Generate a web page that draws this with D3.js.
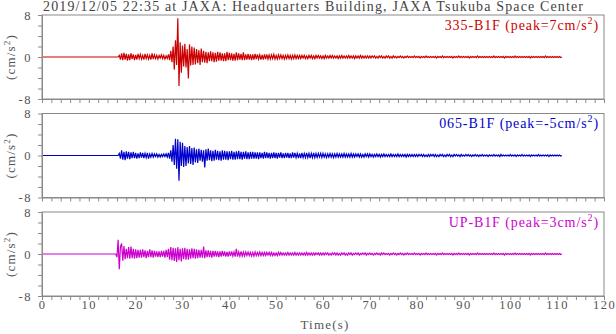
<!DOCTYPE html>
<html><head><meta charset="utf-8">
<script src="https://cdn.jsdelivr.net/npm/d3@7"></script>
<style>body{margin:0;background:#fff}svg{display:block}</style>
</head><body><svg id="c" width="616" height="334"></svg>
<script>
const title = "2019/12/05 22:35 at JAXA: Headquarters Building, JAXA Tsukuba Space Center";
const stations = ["335-B1F", "065-B1F", "UP-B1F"];
const peaks = [7, -5, 3];
const xTickLabels = [0, 10, 20, 30, 40, 50, 60, 70, 80, 90, 100, 110, 120];
const yTickLabels = [-8, 0, 8];
const xLabel = "Time(s)";
const preEventTime = 0;   // trace is flat (0) from here to startTime
const startTime = 15;     // s, first sample
const dt = 0.25;          // s, sample spacing

const acc335 = [
0,0,0,0, 0,0,0.3,-0.5, 0.7,-0.6,0.8,-0.5, 0.6,-0.7,0.5,-0.6, 0.7,-0.4,0.5,-0.6,
0.4,-0.5,0.6,-0.3, 0.5,-0.4,0.3,-0.5, 0.6,-0.3,0.4,-0.4, 0.3,-0.5,0.7,-0.4, 0.4,-0.3,0.3,-0.4,
0.3,-0.2,0.4,-0.3, 0.3,-0.4,0.2,-0.3, 0.5,-0.6,1.2,-1.0, 2.0,-2.4,3.2,-1.5, 7.4,-5.5,2.8,-3.0,
2.2,-1.8,2.5,-2.0, 1.5,-4.1,2.4,-1.6, 2.0,-1.5,1.8,-1.4, 1.5,-1.2,1.3,-1.5, 1.6,-1.0,1.2,-1.1,
1.0,-1.2,0.9,-0.8, 1.1,-0.8,0.9,-1.0, 0.8,-0.9,1.0,-0.7, 0.9,-0.7,0.7,-0.8, 0.7,-0.8,1.0,-0.6,
0.8,-0.6,0.7,-0.7, 0.6,-0.7,0.9,-0.6, 0.7,-0.5,0.6,-0.6, 0.9,-0.6,0.5,-0.5, 0.6,-0.5,0.5,-0.6,
0.5,-0.5,0.6,-0.4, 0.5,-0.4,0.4,-0.5, 0.4,-0.5,0.5,-0.4, 0.5,-0.4,0.4,-0.4, 0.4,-0.3,0.5,-0.4,
0.3,-0.4,0.4,-0.3, 0.4,-0.3,0.3,-0.4, 0.3,-0.3,0.4,-0.3, 0.3,-0.4,0.3,-0.3, 0.4,-0.3,0.3,-0.3,
0.3,-0.3,0.3,-0.2, 0.3,-0.3,0.2,-0.3, 0.3,-0.2,0.3,-0.3, 0.2,-0.3,0.3,-0.2, 0.3,-0.2,0.2,-0.3,
0.2,-0.3,0.3,-0.2, 0.2,-0.2,0.3,-0.2, 0.3,-0.2,0.2,-0.2, 0.2,-0.3,0.2,-0.2, 0.3,-0.2,0.2,-0.2,
0.2,-0.2,0.3,-0.2, 0.2,-0.2,0.2,-0.3, 0.2,-0.2,0.2,-0.2, 0.3,-0.2,0.2,-0.2, 0.2,-0.2,0.2,-0.2,
0.2,-0.2,0.2,-0.1, 0.2,-0.2,0.1,-0.2, 0.2,-0.1,0.2,-0.2, 0.1,-0.2,0.2,-0.1, 0.2,-0.2,0.1,-0.2,
0.2,-0.1,0.1,-0.2, 0.1,-0.1,0.2,-0.1, 0.1,-0.2,0.1,-0.1, 0.2,-0.1,0.1,-0.1, 0.1,-0.1,0.2,-0.1,
0.1,-0.1,0.1,-0.2, 0.1,-0.1,0.1,-0.1, 0.2,-0.1,0.1,-0.1, 0.1,-0.1,0.1,-0.1, 0.1,-0.2,0.1,-0.1,
0.1,-0.1,0.2,-0.1, 0.1,-0.1,0.1,-0.1, 0.1,-0.1,0.1,-0.2, 0.1,-0.1,0.1,-0.1, 0.2,-0.1,0.1,-0.1,
0.1,-0.1,0.1,-0.1, 0.1,-0.2,0.1,-0.1, 0.1,-0.1,0.1,-0.1, 0.2,-0.1,0.1,-0.1, 0.1,-0.1,0.1,-0.1,
0.1,-0.1,0.1,-0.1, 0.1,-0.1,0.2,-0.1, 0.1,-0.1,0.1,-0.1, 0.1,-0.1,0.1,-0.2, 0.1,-0.1,0.1,-0.1,
0.1,-0.1,0.1,-0.1, 0.2,-0.1,0.1,-0.1, 0.1,-0.1,0.1,-0.1, 0.1,-0.1,0.1,-0.1, 0.1,-0.2,0.1,-0.1,
0.1,-0.1,0.1,-0.1, 0.1,-0.1,0.1,-0.1, 0.1,-0.1,0.2,-0.1, 0.1,-0.1,0.1,-0.1, 0.1,-0.1,0.1,-0.1,
0.1,-0.1,0.1,-0.1, 0
];

const acc065 = [
0,0,0,0, 0,0,0.4,-0.6, 1.0,-0.8,0.7,-0.9, 0.8,-0.6,0.7,-0.7, 0.6,-0.5,0.7,-0.5,
0.5,-0.6,0.4,-0.5, 0.6,-0.4,0.5,-0.5, 0.4,-0.4,0.5,-0.6, 0.3,-0.3,0.4,-0.3, 0.3,-0.2,0.3,-0.3,
0.2,-0.3,0.2,-0.2, 0.3,-0.2,0.3,-0.3, 0.5,-0.6,1.0,-1.2, 2.0,-1.8,3.2,-2.5, 3.1,-4.8,2.6,-2.0,
2.4,-2.2,1.8,-2.0, 1.6,-1.5,1.8,-1.6, 1.4,-1.8,1.5,-1.3, 1.2,-1.4,1.3,-1.0, 1.1,-1.2,1.0,-2.3,
1.2,-1.0,1.3,-0.9, 1.0,-1.1,0.9,-1.0, 1.1,-0.8,0.9,-0.9, 0.8,-1.0,1.0,-0.8, 0.9,-0.8,0.8,-0.9,
0.8,-0.7,0.9,-0.8, 0.7,-0.8,0.8,-0.7, 0.9,-0.7,0.7,-0.8, 0.7,-0.6,0.8,-0.7, 0.6,-0.7,0.7,-0.6,
0.7,-0.6,0.6,-0.6, 0.6,-0.7,0.6,-0.5, 0.5,-0.6,0.7,-0.5, 0.6,-0.5,0.5,-0.6, 0.5,-0.5,0.6,-0.5,
0.5,-0.6,0.5,-0.4, 0.6,-0.5,0.4,-0.5, 0.5,-0.4,0.5,-0.5, 0.4,-0.5,0.6,-0.4, 0.5,-0.4,0.4,-0.5,
0.4,-0.5,0.5,-0.4, 0.4,-0.4,0.5,-0.4, 0.4,-0.5,0.4,-0.4, 0.5,-0.4,0.4,-0.4, 0.4,-0.3,0.4,-0.4,
0.4,-0.3,0.3,-0.4, 0.3,-0.3,0.4,-0.3, 0.3,-0.4,0.3,-0.3, 0.4,-0.3,0.3,-0.3, 0.3,-0.3,0.4,-0.3,
0.3,-0.3,0.3,-0.3, 0.4,-0.3,0.3,-0.3, 0.3,-0.2,0.3,-0.3, 0.3,-0.3,0.2,-0.3, 0.3,-0.2,0.3,-0.3,
0.3,-0.2,0.2,-0.3, 0.2,-0.2,0.3,-0.2, 0.2,-0.3,0.2,-0.2, 0.3,-0.2,0.2,-0.2, 0.2,-0.2,0.3,-0.2,
0.2,-0.2,0.2,-0.2, 0.3,-0.2,0.2,-0.2, 0.2,-0.2,0.2,-0.3, 0.2,-0.2,0.2,-0.2, 0.2,-0.2,0.2,-0.2,
0.2,-0.2,0.2,-0.1, 0.2,-0.2,0.2,-0.2, 0.1,-0.2,0.2,-0.2, 0.2,-0.1,0.2,-0.2, 0.2,-0.2,0.1,-0.2,
0.2,-0.1,0.2,-0.2, 0.1,-0.2,0.2,-0.1, 0.2,-0.2,0.1,-0.2, 0.2,-0.1,0.2,-0.1, 0.1,-0.2,0.2,-0.1,
0.1,-0.1,0.2,-0.1, 0.2,-0.1,0.1,-0.2, 0.1,-0.1,0.2,-0.1, 0.1,-0.2,0.1,-0.1, 0.2,-0.1,0.1,-0.1,
0.1,-0.2,0.1,-0.1, 0.1,-0.1,0.2,-0.1, 0.1,-0.1,0.1,-0.2, 0.2,-0.1,0.1,-0.1, 0.1,-0.1,0.1,-0.1,
0.2,-0.1,0.1,-0.1, 0.1,-0.2,0.1,-0.1, 0.1,-0.1,0.2,-0.1, 0.1,-0.1,0.1,-0.1, 0.1,-0.2,0.1,-0.1,
0.1,-0.1,0.1,-0.1, 0.2,-0.1,0.1,-0.1, 0.1,-0.1,0.1,-0.1, 0.1,-0.2,0.1,-0.1, 0.1,-0.1,0.1,-0.1,
0.1,-0.1,0.1,-0.1, 0
];

const accUP = [
0,0,0,0, -0.6,2.7,-2.9,1.4, 2.0,-1.3,1.5,-1.0, 1.0,-0.8,1.3,-0.9, 1.4,-0.8,1.0,-0.9,
0.9,-0.8,0.8,-0.7, 0.8,-0.7,0.9,-0.6, 0.7,-0.8,0.6,-0.6, 0.9,-0.6,0.7,-0.7, 0.6,-0.5,0.5,-0.6,
0.5,-0.6,0.6,-0.5, 0.6,-0.7,0.8,-0.6, 1.0,-1.1,1.3,-1.2, 1.2,-1.3,1.1,-1.5, 1.3,-1.2,1.0,-1.4,
1.1,-1.0,1.2,-1.1, 1.0,-1.1,0.9,-0.9, 1.1,-0.8,1.0,-0.9, 0.9,-0.8,0.8,-0.7, 0.8,-0.7,1.4,-0.8,
0.7,-0.6,0.7,-0.6, 0.6,-0.7,0.6,-0.5, 0.6,-0.5,0.5,-0.6, 0.5,-0.5,0.6,-0.4, 0.5,-0.5,0.4,-0.5,
0.5,-0.4,0.5,-0.4, 0.4,-0.5,1.0,-0.5, 0.4,-0.4,0.5,-0.4, 0.4,-0.4,0.4,-0.3, 0.4,-0.3,0.3,-0.4,
0.3,-0.4,0.4,-0.3, 0.3,-0.3,0.4,-0.3, 0.3,-0.3,0.3,-0.3, 0.3,-0.2,0.3,-0.3, 0.3,-0.3,0.2,-0.3,
0.2,-0.3,0.3,-0.2, 0.3,-0.2,0.2,-0.2, 0.2,-0.2,0.3,-0.2, 0.2,-0.2,0.2,-0.2, 0.3,-0.2,0.2,-0.2,
0.2,-0.2,0.2,-0.2, 0.2,-0.2,0.3,-0.2, 0.2,-0.2,0.2,-0.2, 0.2,-0.2,0.2,-0.1, 0.2,-0.2,0.2,-0.2,
0.2,-0.2,0.2,-0.1, 0.2,-0.2,0.1,-0.2, 0.2,-0.1,0.2,-0.2, 0.2,-0.2,0.1,-0.2, 0.2,-0.1,0.2,-0.2,
0.1,-0.2,0.2,-0.1, 0.2,-0.2,0.1,-0.1, 0.2,-0.1,0.2,-0.2, 0.1,-0.1,0.2,-0.1, 0.2,-0.2,0.1,-0.1,
0.2,-0.1,0.1,-0.2, 0.1,-0.1,0.2,-0.1, 0.1,-0.2,0.2,-0.1, 0.2,-0.1,0.1,-0.1, 0.1,-0.2,0.1,-0.1,
0.2,-0.1,0.1,-0.2, 0.1,-0.1,0.2,-0.1, 0.1,-0.2,0.1,-0.1, 0.2,-0.1,0.1,-0.1, 0.1,-0.1,0.2,-0.1,
0.1,-0.1,0.1,-0.2, 0.1,-0.1,0.1,-0.1, 0.2,-0.1,0.1,-0.1, 0.1,-0.1,0.1,-0.1, 0.1,-0.2,0.1,-0.1,
0.1,-0.1,0.2,-0.1, 0.1,-0.1,0.1,-0.1, 0.1,-0.1,0.1,-0.2, 0.1,-0.1,0.1,-0.1, 0.2,-0.1,0.1,-0.1,
0.1,-0.1,0.1,-0.1, 0.1,-0.2,0.1,-0.1, 0.1,-0.1,0.1,-0.1, 0.2,-0.1,0.1,-0.1, 0.1,-0.1,0.1,-0.1,
0.1,-0.1,0.1,-0.1, 0.1,-0.1,0.2,-0.1, 0.1,-0.1,0.1,-0.1, 0.1,-0.1,0.1,-0.2, 0.1,-0.1,0.1,-0.1,
0.1,-0.1,0.1,-0.1, 0.2,-0.1,0.1,-0.1, 0.1,-0.1,0.1,-0.1, 0.1,-0.1,0.1,-0.1, 0.1,-0.2,0.1,-0.1,
0.1,-0.1,0.1,-0.1, 0.1,-0.1,0.1,-0.1, 0.1,-0.1,0.2,-0.1, 0.1,-0.1,0.1,-0.1, 0.1,-0.1,0.1,-0.1,
0.1,-0.1,0.1,-0.1, 0
];

const seriesList = [acc335, acc065, accUP];
const colors = ["#cc0000", "#0000cc", "#cc00cc"];

// ---- layout ----
const left = 42, right = 604;
const panelTops = [15, 113.5, 212];
const panelH = 84;
const frameColor = "#8a8a8a";
const textColor = "#555";
const font = "'Liberation Serif', 'Times New Roman', serif";

const svg = d3.select("#c");
const x = d3.scaleLinear().domain([0, 120]).range([left, right]);

svg.append("text")
  .attr("x", 43).attr("y", 10.5)
  .attr("font-family", font).attr("font-size", 14)
  .attr("fill", "#444")
  .attr("textLength", 540).attr("lengthAdjust", "spacing")
  .text(title);

seriesList.forEach((vals, i) => {
  const top = panelTops[i];
  const y = d3.scaleLinear().domain([-8, 8]).range([top + panelH, top]);
  const g = svg.append("g");

  // trace
  const pts = [[preEventTime, 0]].concat(vals.map((v, k) => [startTime + k * dt, v]));
  g.append("path")
    .datum(pts)
    .attr("fill", "none")
    .attr("stroke", colors[i])
    .attr("stroke-width", 1.2)
    .attr("stroke-linejoin", "miter")
    .attr("d", d3.line().x(d => x(d[0])).y(d => y(d[1])));

  // frame
  g.append("rect")
    .attr("x", x(0)).attr("y", y(8))
    .attr("width", x(120) - x(0)).attr("height", y(-8) - y(8))
    .attr("fill", "none").attr("stroke", frameColor).attr("stroke-width", 1);

  // x axis
  const xa = d3.axisBottom(x)
    .tickValues(d3.range(0, 121, 2))
    .tickSize(4).tickSizeOuter(0).tickPadding(0)
    .tickFormat(d => (i === 2 && xTickLabels.includes(d)) ? d : "");
  const gx = g.append("g").attr("transform", `translate(0,${y(-8)})`).call(xa);
  gx.select(".domain").attr("stroke", frameColor);
  gx.selectAll(".tick line").attr("stroke", frameColor);
  gx.selectAll("text").attr("font-family", font).attr("font-size", 12.5)
    .attr("letter-spacing", 1.5).attr("fill", textColor).attr("dy", "0.7em");

  // y axis
  const ya = d3.axisLeft(y)
    .tickValues(d3.range(-8, 9, 2))
    .tickSize(4).tickSizeOuter(0).tickPadding(6)
    .tickFormat(d => yTickLabels.includes(d) ? d : "");
  const gy = g.append("g").attr("transform", `translate(${x(0)},0)`).call(ya);
  gy.select(".domain").attr("stroke", frameColor);
  gy.selectAll(".tick line").attr("stroke", frameColor);
  gy.selectAll("text").attr("font-family", font).attr("font-size", 12.5)
    .attr("letter-spacing", 1.5).attr("fill", textColor);

  // y label
  const yl = g.append("text")
    .attr("transform", `translate(15,${y(0)}) rotate(-90)`)
    .attr("text-anchor", "middle")
    .attr("font-family", font).attr("font-size", 13)
    .attr("letter-spacing", 1.2)
    .attr("fill", textColor);
  yl.append("tspan").text("(cm/s");
  yl.append("tspan").attr("font-size", 9).attr("dy", -5).text("2");
  yl.append("tspan").attr("dy", 5).text(")");

  // station label
  const lab = g.append("text")
    .attr("x", 599).attr("y", top + 14.5)
    .attr("text-anchor", "end")
    .attr("font-family", font).attr("font-size", 14)
    .attr("letter-spacing", 0.9)
    .attr("fill", colors[i]);
  lab.append("tspan").text(`${stations[i]} (peak=${peaks[i]}cm/s`);
  lab.append("tspan").attr("font-size", 10).attr("dy", -6).text("2");
  lab.append("tspan").attr("dy", 6).text(")");
});

svg.append("text")
  .attr("x", (left + right) / 2 + 2).attr("y", 329)
  .attr("text-anchor", "middle")
  .attr("font-family", font).attr("font-size", 13)
  .attr("letter-spacing", 1.2)
  .attr("fill", textColor)
  .text(xLabel);
</script>
</body></html>
